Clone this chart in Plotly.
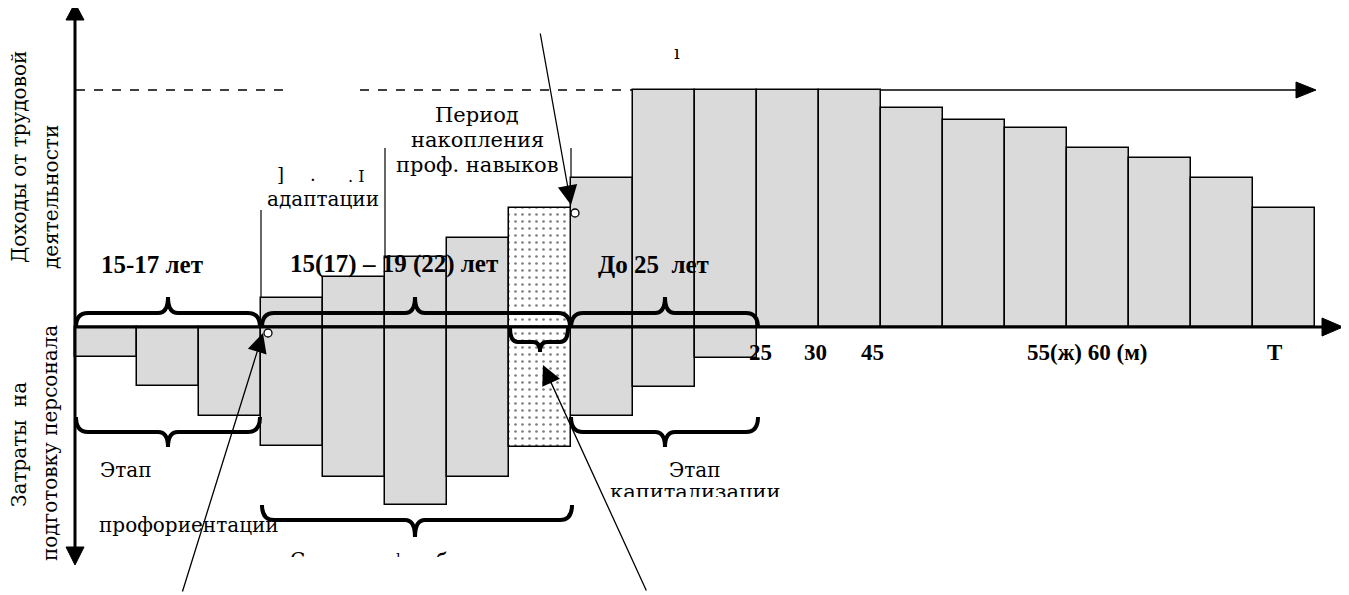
import plotly.graph_objects as go

# ---------------- data ----------------
bar_index = list(range(20))
income = [0, 0, 0, 29, 50, 70, 89, 119, 149, 237, 237, 237, 237, 219, 207, 199, 179, 169, 149, 119]
costs = [30, 59, 89, 119, 150, 178, 150, 120, 89, 60, 31, 0, 0, 0, 0, 0, 0, 0, 0, 0]
dotted_index = 7
tick_labels = ["25", "30", "45", "55(ж) 60 (м)", "T"]
tick_pos = [11.06, 11.94, 12.87, 16.32, 19.34]
stage_labels = ["15-17 лет", "15(17) – 19 (22) лет", "До 25  лет"]

# ---------------- helpers (page pixel -> data) ----------------
OX, OY, BW = 75, 327, 62
PAGE_W, PAGE_H = 1349, 595
M = 8  # default body margin of the html page
W, H = PAGE_W - M, PAGE_H - M


def X(px):
    return (px - OX) / BW


def Y(py):
    return OY - py


BOLD_FONT = "Liberation Serif"
REG_FONT = "DejaVu Serif"
GRAY = "#dadada"

fig = go.Figure()

fig.add_trace(go.Bar(
    x=[i + 0.5 for i in bar_index if i != dotted_index and income[i] > 0],
    y=[income[i] for i in bar_index if i != dotted_index and income[i] > 0],
    width=1, marker=dict(color=GRAY, line=dict(color="black", width=1.5)),
    hoverinfo="skip"))
fig.add_trace(go.Bar(
    x=[i + 0.5 for i in bar_index if i != dotted_index and costs[i] > 0],
    y=[-costs[i] for i in bar_index if i != dotted_index and costs[i] > 0],
    width=1, marker=dict(color=GRAY, line=dict(color="black", width=1.5)),
    hoverinfo="skip"))
fig.add_trace(go.Bar(
    x=[dotted_index + 0.5, dotted_index + 0.5],
    y=[income[dotted_index], -costs[dotted_index]],
    width=1,
    marker=dict(color="white", line=dict(color="black", width=1.5),
                pattern=dict(shape=".", fgcolor="black", bgcolor="white", size=7, solidity=0.12)),
    hoverinfo="skip"))

shapes = []


def line(x0, y0, x1, y1, w=1.5, dash=None):
    d = dict(type="line", x0=X(x0), y0=Y(y0), x1=X(x1), y1=Y(y1), xref="x", yref="y",
             line=dict(color="black", width=w))
    if dash:
        d["line"]["dash"] = dash
    shapes.append(d)


def tri(pts):
    p = "M " + " L ".join(f"{X(a)},{Y(b)}" for a, b in pts) + " Z"
    shapes.append(dict(type="path", path=p, xref="x", yref="y", fillcolor="black",
                       line=dict(color="black", width=1)))


def brace(xa, xb, ye, ym, yt, xc=None, r=12, rc=10):
    if xc is None:
        xc = (xa + xb) / 2
    pts = [("M", xa, ye), ("Q", xa, ym, xa + r, ym), ("L", xc - rc, ym),
           ("Q", xc, ym, xc, yt), ("Q", xc, ym, xc + rc, ym), ("L", xb - r, ym),
           ("Q", xb, ym, xb, ye)]
    s = ""
    for p in pts:
        cmd = p[0]
        coords = p[1:]
        s += cmd + " " + " ".join(f"{X(coords[k])},{Y(coords[k + 1])}" for k in range(0, len(coords), 2)) + " "
    shapes.append(dict(type="path", path=s, xref="x", yref="y",
                       line=dict(color="black", width=4)))


# dashed reference line + top arrow line
line(76, 90, 283, 90, 1.5, "dash")
line(360, 90, 633, 90, 1.5, "dash")
line(881, 90, 1300, 90, 1.5)
tri([(1296, 82), (1296, 98), (1316, 90)])

# period boundaries
line(261, 210, 261, 298, 1.2)
line(385, 148, 385, 257, 1.2)
line(571, 148, 571, 178, 1.2)

# axes
line(75, 18, 75, 550, 3)
tri([(66, 20), (84, 20), (75, 3)])
tri([(66, 547), (84, 547), (75, 565)])
line(75, 327, 1325, 327, 3)
tri([(1322, 318), (1322, 336), (1343, 327)])

# braces
brace(76, 260, 327, 313, 297, xc=168)
brace(76, 260, 417, 432, 447, xc=168)
brace(262, 570, 327, 313, 297, xc=415)
brace(510, 568, 328, 342, 352, xc=540, r=8, rc=7)
brace(571, 758, 328, 313, 297, xc=665)
brace(571, 758, 417, 432, 447, xc=665)
brace(262, 572, 505, 520, 537, xc=415)

# small circles
for cx, cy in [(575, 213), (268, 333)]:
    shapes.append(dict(type="circle", x0=X(cx - 4), x1=X(cx + 4), y0=Y(cy + 4), y1=Y(cy - 4),
                       xref="x", yref="y", fillcolor="white", line=dict(color="black", width=1.3)))

ann = []


def text(t, px, py, size=21, bold=False, angle=0, xanchor="center"):
    ann.append(dict(text=t, x=X(px), y=Y(py), xref="x", yref="y",
                    showarrow=False, textangle=angle, xanchor=xanchor, yanchor="middle",
                    font=dict(family=BOLD_FONT if bold else REG_FONT, size=size, color="black",
                              weight="bold" if bold else "normal")))


def cover(x0, y0, x1, y1):
    # white box drawn over (clipped) text
    ann.append(dict(text="&nbsp;", x=X((x0 + x1) / 2), y=Y((y0 + y1) / 2), xref="x", yref="y",
                    showarrow=False, xanchor="center", yanchor="middle",
                    width=x1 - x0, height=y1 - y0, bgcolor="white", borderpad=0, borderwidth=0,
                    font=dict(size=6, color="white")))


def arrow(tx, ty, hx, hy):
    ann.append(dict(text="", x=X(hx), y=Y(hy), ax=X(tx), ay=Y(ty), xref="x", yref="y",
                    axref="x", ayref="y", showarrow=True, arrowhead=2, arrowsize=3.0,
                    arrowwidth=1.3, arrowcolor="black", standoff=0))


# axis titles (rotated)
text("Доходы от трудовой", 19, 157, 20, angle=-90)
text("деятельности", 51, 197, 20, angle=-90)
text("Затраты  на", 19, 445, 20, angle=-90)
text("подготовку персонала", 50, 443, 20, angle=-90)

# stage age labels
text(stage_labels[0], 152, 264, 25, bold=True)
text(stage_labels[1], 394, 264, 25, bold=True)
text(stage_labels[2], 653, 264, 25, bold=True)

# ticks
for lab, pos in zip(tick_labels, tick_pos):
    ann.append(dict(text=lab, x=pos, y=Y(352), xref="x", yref="y", showarrow=False,
                    xanchor="center", yanchor="middle",
                    font=dict(family=BOLD_FONT, size=23, color="black", weight="bold")))

# period texts
text("Период", 477, 115, 21)
text("накопления", 477, 140, 21)
text("проф. навыков", 477, 165, 21)
text("адаптации", 323, 199, 20)
text("]", 280, 174, 18)
text(".", 313, 174, 18)
text(". I", 356, 176, 16)
text("ı", 677, 52, 18)

text("Этап", 98, 470, 20, xanchor="left")
text("профориентации", 97, 525, 20, xanchor="left")
text("Этап", 695, 470, 20)
text("капитализации", 695, 492, 21)
cover(604, 497, 800, 520)

# clipped fragments below the middle brace
text("С", 297, 560, 20)
text("ı", 398, 556, 14)
text("б", 442, 561, 20)
cover(285, 557, 465, 585)

# arrows
arrow(540, 32, 571, 205)
arrow(182, 593, 263, 333)
arrow(647, 592, 543, 365)

fig.update_layout(
    width=W, height=H, margin=dict(l=0, r=0, t=0, b=0),
    paper_bgcolor="white", plot_bgcolor="white", showlegend=False,
    barmode="overlay", bargap=0,
    xaxis=dict(range=[X(M), X(PAGE_W)], visible=False, fixedrange=True),
    yaxis=dict(range=[Y(PAGE_H), Y(M)], visible=False, fixedrange=True),
    shapes=shapes, annotations=ann,
)

fig.write_html("out.html")
